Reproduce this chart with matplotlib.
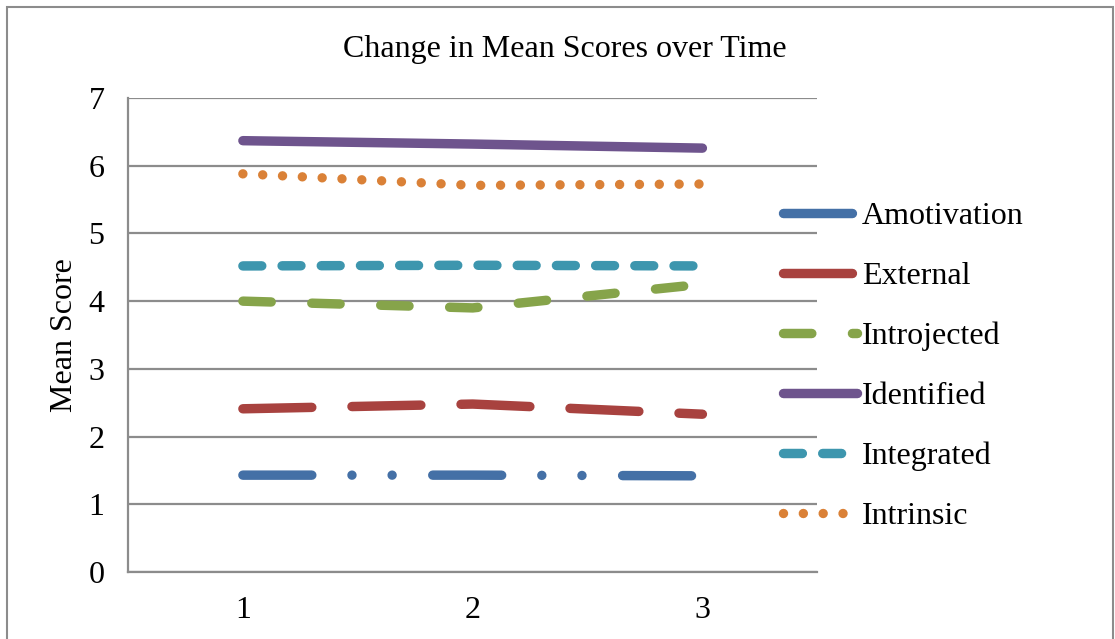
import matplotlib
matplotlib.use('Agg')
import matplotlib.pyplot as plt
from matplotlib.patches import Rectangle

plt.rcParams['font.family'] = ['Liberation Serif', 'DejaVu Serif']

# data
times = [1, 2, 3]
amotivation = [1.43, 1.43, 1.42]
external = [2.41, 2.48, 2.33]
introjected = [4.00, 3.90, 4.25]
identified = [6.37, 6.32, 6.26]
integrated = [4.52, 4.53, 4.52]
intrinsic = [5.88, 5.71, 5.73]

labels = ['Amotivation', 'External', 'Introjected', 'Identified', 'Integrated', 'Intrinsic']
colors = ['#4470A6', '#A8423F', '#86A44A', '#6E548D', '#3D96AE', '#DA8137']
dashes = [(0, (7.3, 4.25, 0.001, 4.25, 0.001, 4.3)),
          (0, (7.3, 4.25)),
          (0, (3.0, 4.3)),
          '-',
          (0, (2.0, 2.15)),
          (0, (0.001, 2.1))]
series = [amotivation, external, introjected, identified, integrated, intrinsic]

fig = plt.figure(figsize=(11.15, 6.39), dpi=100)
ax = fig.add_axes([0.1148, 0.1049, 0.733 - 0.1148, 0.8466 - 0.1049])

for vals, lab, col, ls in zip(series, labels, colors, dashes):
    ax.plot(times, vals, color=col, lw=6.8, linestyle=ls, label=lab,
            dash_capstyle='round', solid_capstyle='round')

ax.set_xlim(0.5, 3.5)
ax.set_ylim(0, 7)
ax.set_xticks(times)
ax.set_yticks(range(0, 8))
ax.grid(axis='y', color='#8c8c8c', lw=1.6)
ax.set_axisbelow(True)
for s in ['top', 'right']:
    ax.spines[s].set_visible(False)
for s in ['left', 'bottom']:
    ax.spines[s].set_color('#8c8c8c')
    ax.spines[s].set_linewidth(1.6)
ax.tick_params(length=0, labelsize=23, pad=17)

ax.set_ylabel('Mean Score', fontsize=23, labelpad=7)
fig.text(0.507, 0.922, 'Change in Mean Scores over Time', ha='center', va='center', fontsize=23)

ax.legend(loc='upper left', bbox_to_anchor=(0.9507, 0.7816), frameon=False, fontsize=23,
          handlelength=2.32, handletextpad=0.15, labelspacing=0.96, borderaxespad=0,
          borderpad=0)

fig.patches.append(Rectangle((0.0063, -0.05), 0.9915, 1.039, transform=fig.transFigure,
                             fill=False, edgecolor='#8c8c8c', lw=1.5))

fig.savefig('out.png', dpi=100)
